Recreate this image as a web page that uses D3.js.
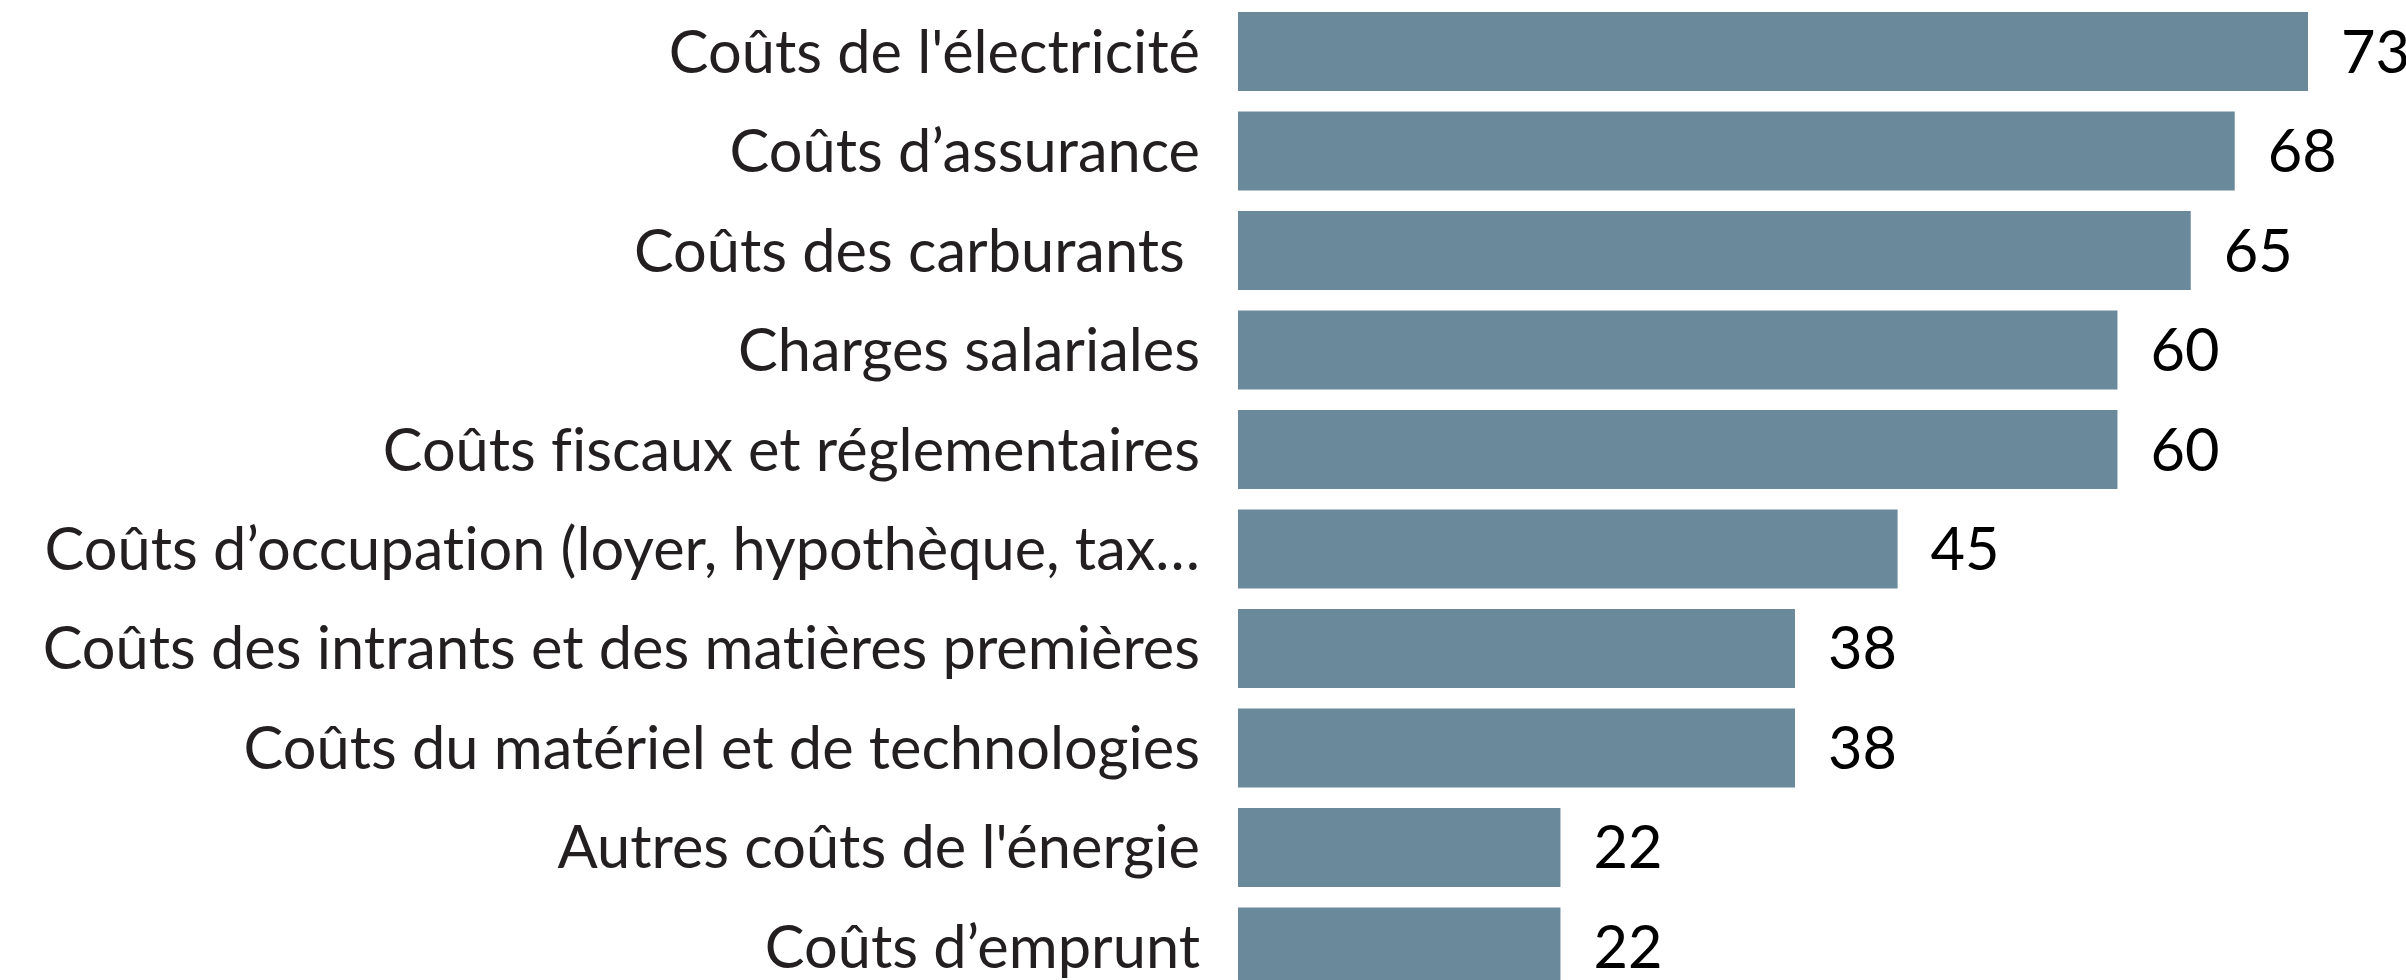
<!DOCTYPE html>
<html>
<head>
<meta charset="utf-8">
<script src="https://cdn.jsdelivr.net/npm/d3@7"></script>
<style>
  body { margin: 0; background: #fff; overflow: hidden; }
  text { font-family: Lato, "Open Sans", sans-serif; font-variant-ligatures: none; }
</style>
</head>
<body>
<svg width="2406" height="980"></svg>
<script>
// chart data
var categories = [
    "Coûts de l'électricité",
    "Coûts d’assurance",
    "Coûts des carburants ",
    "Charges salariales",
    "Coûts fiscaux et réglementaires",
    "Coûts d’occupation (loyer, hypothèque, tax…",
    "Coûts des intrants et des matières premières",
    "Coûts du matériel et de technologies",
    "Autres coûts de l'énergie",
    "Coûts d’emprunt"
];
var values = [73, 68, 65, 60, 60, 45, 38, 38, 22, 22];

var data = categories.map(function (c, i) { return { name: c, value: values[i] }; });

var svg = d3.select("svg"),
    barLeft = 1238,
    fontSize = 59.5;

var x = d3.scaleLinear().domain([0, 73]).range([barLeft, 2308]);
var y = d3.scaleBand()
    .domain(categories)
    .range([12, 986.5])
    .paddingInner(0.206)
    .paddingOuter(0);

// bars
svg.selectAll(".bar")
    .data(data)
    .enter().append("rect")
    .attr("class", "bar")
    .attr("x", x(0))
    .attr("y", function (d) { return y(d.name); })
    .attr("width", function (d) { return x(d.value) - x(0); })
    .attr("height", y.bandwidth())
    .attr("fill", "#6a8a9c");

// category labels
svg.selectAll(".label")
    .data(data)
    .enter().append("text")
    .attr("class", "label")
    .attr("x", barLeft - 38)
    .attr("y", function (d) { return y(d.name) + y.bandwidth() / 2 + 21; })
    .attr("text-anchor", "end")
    .attr("font-size", fontSize)
    .attr("fill", "#231f20")
    .style("white-space", "pre")
    .text(function (d) { return d.name; });

// value labels
svg.selectAll(".value")
    .data(data)
    .enter().append("text")
    .attr("class", "value")
    .attr("x", function (d) { return x(d.value) + 33; })
    .attr("y", function (d) { return y(d.name) + y.bandwidth() / 2 + 21; })
    .attr("font-size", fontSize)
    .attr("fill", "#000")
    .text(function (d) { return d.value; });
</script>
</body>
</html>
